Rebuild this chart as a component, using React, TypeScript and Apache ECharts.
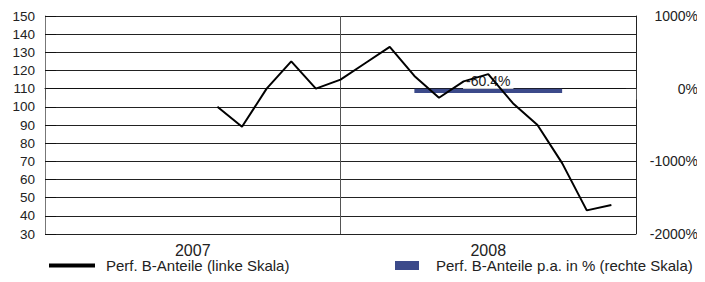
import React, { useEffect, useRef } from "react";
import * as echarts from "echarts";

const years = ["2007", "2008"];
// month boundaries 0..24 (start of 2007 .. end of 2008)
const monthPoints = [
  "01.2007", "02.2007", "03.2007", "04.2007", "05.2007", "06.2007", "07.2007", "08.2007",
  "09.2007", "10.2007", "11.2007", "12.2007", "01.2008", "02.2008", "03.2008", "04.2008",
  "05.2008", "06.2008", "07.2008", "08.2008", "09.2008", "10.2008", "11.2008", "12.2008", "01.2009",
];
const perfValues: (number | null)[] = [
  null, null, null, null, null, null, null,
  100, 89, 110, 125, 110, 115, 124, 133, 117, 105, 114, 118, 102, 90, 69, 43, 46,
  null,
];
const perfPa: (number | null)[] = [null, -60.4];
const leftTicks = { min: 30, max: 150, interval: 10 };
const rightTicks = { min: -2000, max: 1000, interval: 1000 };

const lineName = "Perf. B-Anteile (linke Skala)";
const barName = "Perf. B-Anteile p.a. in % (rechte Skala)";

export default function App() {
  const ref = useRef<HTMLDivElement>(null);
  useEffect(() => {
    if (!ref.current) return;
    const chart = echarts.init(ref.current, undefined, { renderer: "svg" });
    const font = "Liberation Sans, Arial, sans-serif";
    chart.setOption({
      animation: false,
      textStyle: { fontFamily: font },
      grid: { left: 45, right: 69, top: 16, bottom: 48, containLabel: false },
      legend: [
        {
          data: [{ name: lineName, icon: "rect" }],
          left: 49,
          top: 258,
          padding: 0,
          itemWidth: 46,
          itemHeight: 4,
          textStyle: { fontSize: 15, color: "#222", fontFamily: font, padding: [0, 0, 0, 6] },
        },
        {
          data: [{ name: barName, icon: "rect" }],
          left: 395,
          top: 258,
          padding: 0,
          itemWidth: 24,
          itemHeight: 9,
          textStyle: { fontSize: 15, color: "#222", fontFamily: font, padding: [0, 0, 0, 12] },
        },
      ],
      xAxis: [
        {
          type: "category",
          data: years,
          boundaryGap: true,
          axisLine: { show: true, lineStyle: { color: "#111", width: 1 } },
          axisTick: { show: true, length: 11, lineStyle: { color: "#555" } },
          axisLabel: { fontSize: 16, color: "#222", margin: 8, fontFamily: font },
          splitLine: { show: true, lineStyle: { color: "#555", width: 1 } },
        },
        {
          type: "category",
          data: monthPoints,
          boundaryGap: false,
          show: false,
        },
      ],
      yAxis: [
        {
          type: "value",
          min: leftTicks.min,
          max: leftTicks.max,
          interval: leftTicks.interval,
          axisLine: { show: true, lineStyle: { color: "#777" } },
          axisTick: { show: true, inside: true, length: 11, lineStyle: { color: "#111" } },
          axisLabel: { fontSize: 13.5, color: "#222", margin: 10, fontFamily: font },
          splitLine: { show: true, lineStyle: { color: "#222", width: 1 } },
        },
        {
          type: "value",
          position: "right",
          min: rightTicks.min,
          max: rightTicks.max,
          interval: rightTicks.interval,
          axisLine: { show: true, lineStyle: { color: "#222" } },
          axisTick: { show: true, inside: true, length: 10, lineStyle: { color: "#222" } },
          axisLabel: {
            fontSize: 14,
            color: "#222",
            margin: 62,
            align: "right",
            formatter: (v: number) => `${v}%`,
            fontFamily: font,
          },
          splitLine: { show: false },
        },
      ],
      series: [
        {
          name: barName,
          type: "bar",
          xAxisIndex: 0,
          yAxisIndex: 1,
          data: perfPa,
          barWidth: "50%",
          z: 2,
          itemStyle: { color: "#3c4a8a" },
          label: {
            show: true,
            position: "top",
            distance: 0,
            formatter: (p: any) => `${p.value}%`,
            fontSize: 14,
            color: "#222",
            fontFamily: font,
            backgroundColor: "#fff",
            padding: [2, 3, 1, 3],
          },
        },
        {
          name: lineName,
          type: "line",
          xAxisIndex: 1,
          yAxisIndex: 0,
          data: perfValues,
          showSymbol: false,
          symbol: "none",
          connectNulls: false,
          z: 5,
          lineStyle: { color: "#000", width: 2 },
          itemStyle: { color: "#000" },
        },
      ],
    });
    return () => chart.dispose();
  }, []);
  return <div ref={ref} style={{ width: 705, height: 282, margin: -8 }} />;
}
